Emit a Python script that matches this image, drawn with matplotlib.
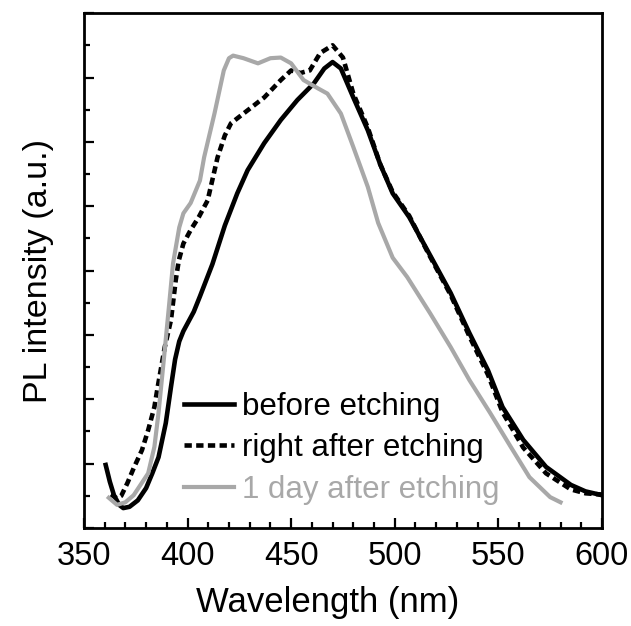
import matplotlib
matplotlib.use('Agg')
import matplotlib.pyplot as plt
from matplotlib.ticker import MultipleLocator, NullFormatter

plt.rcParams['font.family'] = ['Liberation Sans', 'DejaVu Sans']

# ---- data (intensity in a.u.) ----
wl_before = [360.5, 362.5, 364.5, 367, 369, 372, 376, 380, 383, 386, 389.5, 392, 394, 396,
             398, 400, 403, 406, 412, 418, 424, 429, 437, 445, 453, 461, 466, 470, 474, 480,
             487, 493, 499, 507, 516, 527, 536, 545, 552, 562, 573, 585, 592, 600]
pl_before = [0.98, 0.72, 0.51, 0.36, 0.31, 0.33, 0.43, 0.62, 0.85, 1.10, 1.63, 2.19, 2.62, 2.90,
             3.06, 3.18, 3.36, 3.60, 4.10, 4.70, 5.20, 5.56, 5.98, 6.34, 6.65, 6.91, 7.14, 7.24, 7.14, 6.69,
             6.18, 5.65, 5.20, 4.83, 4.30, 3.65, 3.03, 2.45, 1.88, 1.37, 0.95, 0.67, 0.57, 0.51]

wl_right = [363, 366, 368, 371, 374, 378, 381, 384, 385.6, 389, 392, 394.3, 395.8, 398,
            401.5, 405.4, 409.7, 414.5, 418, 421, 429, 437, 445, 450, 454.5, 459, 464,
            470, 475, 480, 487, 493, 499, 507, 516, 527, 536, 545, 552, 562, 573, 585,
            592, 600]
pl_right = [0.52, 0.46, 0.50, 0.70, 0.93, 1.21, 1.52, 1.88, 2.19, 2.81, 3.23, 3.85, 4.16, 4.42,
            4.63, 4.83, 5.09, 5.76, 6.10, 6.29, 6.49, 6.69, 6.96, 7.11, 7.07, 7.11, 7.38,
            7.50, 7.31, 6.75, 6.22, 5.65, 5.22, 4.85, 4.28, 3.62, 2.98, 2.38, 1.80, 1.25, 0.85, 0.60,
            0.54, 0.52]

wl_day = [362, 366, 370, 374, 381, 384, 386, 388.5, 391, 393, 396, 398, 401.5, 406, 408,
          413, 417.5, 420, 422, 427, 434, 440, 445, 450, 456, 463, 467.5, 474, 480, 487,
          492, 499, 506, 517, 527, 536, 546, 556, 565, 575, 580]
pl_day = [0.47, 0.36, 0.40, 0.51, 0.85, 1.26, 1.79, 2.60, 3.43, 4.11, 4.67, 4.89, 5.05, 5.40, 5.76,
          6.44, 7.11, 7.30, 7.34, 7.30, 7.22, 7.30, 7.31, 7.22, 6.96, 6.83, 6.75, 6.44, 5.92, 5.30,
          4.74, 4.20, 3.90, 3.34, 2.81, 2.30, 1.79, 1.26, 0.79, 0.48, 0.40]

labels = ['before etching', 'right after etching', '1 day after etching']

# ---- figure ----
fig = plt.figure(figsize=(6.31, 6.26), dpi=100)
ax = fig.add_axes([0.1330, 0.1565, 0.8210, 0.8225])

ax.plot(wl_before, pl_before, color='black', lw=3.3, label=labels[0],
        solid_joinstyle='round')
ax.plot(wl_right, pl_right, color='black', lw=3.3, ls=(0, (1.6, 0.95)),
        label=labels[1])
ax.plot(wl_day, pl_day, color='#a8a8a8', lw=3.0, label=labels[2],
        solid_joinstyle='round')

ax.set_xlim(350, 600)
ax.set_ylim(0, 8)
ax.xaxis.set_major_locator(MultipleLocator(50))
ax.xaxis.set_minor_locator(MultipleLocator(10))
ax.yaxis.set_major_locator(MultipleLocator(1))
ax.yaxis.set_minor_locator(MultipleLocator(0.5))
ax.yaxis.set_major_formatter(NullFormatter())

ax.tick_params(which='both', direction='in', width=1.6, top=False, right=False)
ax.tick_params(which='major', length=7)
ax.tick_params(which='minor', length=4.5)
ax.tick_params(axis='x', labelsize=23.5, pad=9)
for s in ax.spines.values():
    s.set_linewidth(2.0)

ax.set_xlabel('Wavelength (nm)', fontsize=25)
ax.xaxis.set_label_coords(0.47, -0.112)
ax.set_ylabel('PL intensity (a.u.)', fontsize=24.5, labelpad=18)

leg = ax.legend(loc='lower left', bbox_to_anchor=(0.193, 0.045), frameon=False,
                fontsize=22.5, handlelength=1.6, handletextpad=0.25,
                labelspacing=0.37, borderpad=0, borderaxespad=0,
                labelcolor='linecolor')

fig.savefig('out.png', dpi=100)
